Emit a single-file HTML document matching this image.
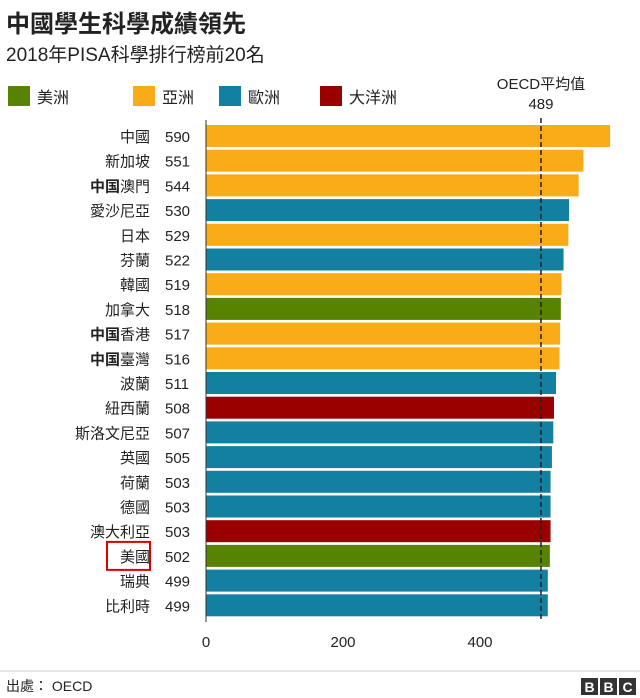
<!DOCTYPE html>
<html><head><meta charset="utf-8"><style>
body{margin:0;background:#fff;font-family:"Liberation Sans","Noto Sans CJK TC",sans-serif;color:#222;}
#wrap{position:relative;width:640px;height:698px;overflow:hidden;}
.t{position:absolute;white-space:nowrap;}
</style></head><body>
<div id="wrap">
<div class="t" style="left:6px;top:4px;font-size:24px;font-weight:bold;">中國學生科學成績領先</div>
<div class="t" style="left:6px;top:40px;font-size:19px;">2018年PISA科學排行榜前20名</div>
<svg id="chart" width="640" height="698" style="position:absolute;left:0;top:0"></svg>
</div>
<script>
const categories=["中國","新加坡","中国澳門","愛沙尼亞","日本","芬蘭","韓國","加拿大","中国香港","中国臺灣","波蘭","紐西蘭","斯洛文尼亞","英國","荷蘭","德國","澳大利亞","美國","瑞典","比利時"];
const scores=[590,551,544,530,529,522,519,518,517,516,511,508,507,505,503,503,503,502,499,499];
const regions=["asia","asia","asia","europe","asia","europe","asia","america","asia","asia","europe","oceania","europe","europe","europe","europe","oceania","america","europe","europe"];
const legendKeys=["america","asia","europe","oceania"];
const legendLabels=["美洲","亞洲","歐洲","大洋洲"];
const xTicks=[0,200,400];
const oecdAvg=489;
const colors={america:"#588300",asia:"#FAAB18",europe:"#1380A1",oceania:"#990000"};
const NS="http://www.w3.org/2000/svg";
const svg=document.getElementById("chart");
const x0=206,scale=274/400,rowTop=125,step=24.7,barH=22;
const xs=v=>x0+v*scale;
const ys=i=>rowTop+i*step;
function mk(tag,attrs,parent){const e=document.createElementNS(NS,tag);for(const k in attrs)e.setAttribute(k,attrs[k]);(parent||svg).appendChild(e);return e;}
const lx=[8,133,219,320];
legendKeys.forEach((k,i)=>{
 const g=mk("g",{});
 
 
 mk("rect",{x:lx[i],y:86,width:22,height:20,fill:colors[k]},g);
 const t=mk("text",{x:lx[i]+29,y:103,"font-size":16,fill:"#222"},g);t.textContent=legendLabels[i];
});
categories.forEach((c,i)=>{
 const r=mk("rect",{x:x0,y:ys(i),width:xs(scores[i])-x0,height:barH,fill:colors[regions[i]]});
 
 
 const cy=ys(i)+barH/2+6;
 const nt=mk("text",{x:150,y:cy,"font-size":15,"text-anchor":"end",fill:"#222"});
 
 
 if(c.startsWith("中国")){const b=mk("tspan",{"font-weight":"bold"},nt);b.textContent="中国";const s=mk("tspan",{},nt);s.textContent=c.slice(2);}
 else nt.textContent=c;
 const vt=mk("text",{x:165,y:cy,"font-size":15,fill:"#222"});
 
 
 vt.textContent=scores[i];
});
const ax=mk("line",{x1:x0,y1:120,x2:x0,y2:622,stroke:"#333","stroke-width":1});


xTicks.forEach(v=>{
 const t=mk("text",{x:xs(v),y:647,"font-size":15,"text-anchor":"middle",fill:"#222"});
 
 
 t.textContent=v;
});
const ol=mk("line",{x1:xs(oecdAvg),y1:118,x2:xs(oecdAvg),y2:622,stroke:"#222","stroke-width":1.5,"stroke-dasharray":"5,3"});


const o1=mk("text",{x:xs(oecdAvg),y:89,"font-size":15,"text-anchor":"middle",fill:"#222"});


o1.textContent="OECD平均值";
const o2=mk("text",{x:xs(oecdAvg),y:109,"font-size":15,"text-anchor":"middle",fill:"#222"});


o2.textContent=oecdAvg;
const ui=categories.indexOf("美國");
const hb=mk("rect",{x:107,y:ys(ui)-3,width:43,height:28,fill:"none",stroke:"#d00",'stroke-width':2});


const sep=mk("line",{x1:0,y1:671,x2:640,y2:671,stroke:"#ccc","stroke-width":1});


const src=mk("text",{x:6,y:691,"font-size":14,fill:"#222"});


src.textContent="出處： OECD";
["B","B","C"].forEach((l,i)=>{
 const g=mk("g",{});
 
 
 mk("rect",{x:581+i*19,y:678,width:17,height:17,fill:"#333"},g);
 const t=mk("text",{x:589.5+i*19,y:692,"font-size":14,"font-weight":"bold","text-anchor":"middle",fill:"#fff"},g);t.textContent=l;
});
</script>
</body></html>
